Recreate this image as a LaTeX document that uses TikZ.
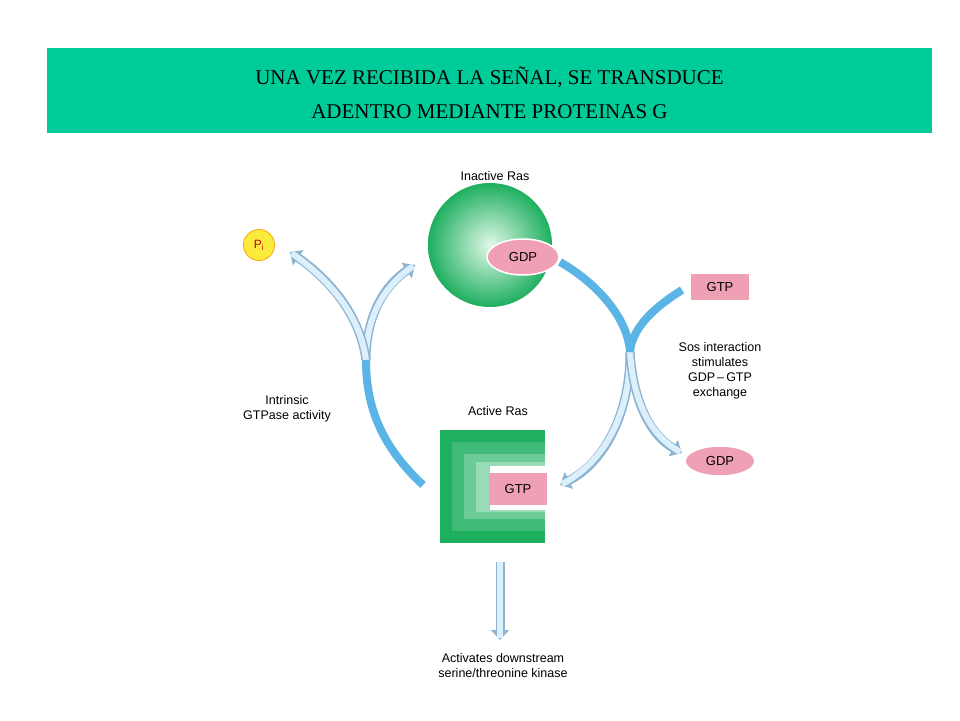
\documentclass[tikz,border=0pt]{standalone}
\usepackage{fontspec}
\setmainfont{Liberation Sans}
\newfontfamily\titlefont{Liberation Serif}
\usetikzlibrary{arrows.meta,shapes.geometric}
\definecolor{banner}{RGB}{0,204,153}
\definecolor{rasgreen}{RGB}{30,175,95}
\definecolor{raslight}{RGB}{225,248,232}
\definecolor{pinkx}{RGB}{240,160,180}
\definecolor{arcblue}{RGB}{90,180,230}
\definecolor{hollowfill}{RGB}{220,240,252}
\definecolor{hollowedge}{RGB}{140,180,210}
\definecolor{piyellow}{RGB}{250,235,60}
\tikzset{
  lbl/.style={font=\fontsize{12.5pt}{15pt}\selectfont, align=center, inner sep=0},
  solidarc/.style={line width=8pt, arcblue},
  hollowout/.style={line width=9pt, hollowedge, -{Triangle[width=18pt,length=10pt,fill=hollowfill]}},
  hollowin/.style={line width=6pt, hollowfill, shorten >=2pt},
  pinkoval/.style={ellipse, fill=pinkx, draw=white, line width=1.5pt, inner sep=1pt, font=\fontsize{13pt}{15pt}\selectfont},
  pinkbox/.style={rectangle, fill=pinkx, inner sep=0, font=\fontsize{13pt}{15pt}\selectfont}
}
\begin{document}
\begin{tikzpicture}[x=1pt,y=-1pt]
\useasboundingbox (0,0) rectangle (960,720);
\fill[white] (0,0) rectangle (960,720);
% banner
\node[fill=banner, minimum width=885pt, minimum height=85pt, inner sep=0, anchor=north west] (banner) at (47,48) {};
\node[align=center, font=\titlefont\fontsize{21pt}{34pt}\selectfont] (title) at (489.5,93) {UNA VEZ RECIBIDA LA SEÑAL, SE TRANSDUCE\\ADENTRO MEDIANTE PROTEINAS G};
% inactive ras
\shade[inner color=raslight, outer color=rasgreen] (490,245) circle (62);
\node[circle, minimum size=124pt, inner sep=0] (inact) at (490,245) {};
\node[pinkoval, minimum width=72pt, minimum height=36pt] (gdp1) at (523,257) {GDP};
\node[lbl] (inactlbl) at (495,176) {Inactive Ras};
% active ras
\fill[rasgreen] (440,430) rectangle (545,543);
\fill[rasgreen!85!white] (452,442) rectangle (545,531);
\fill[rasgreen!65!white] (464,454) rectangle (545,519);
\fill[rasgreen!45!white] (476,462) rectangle (545,512);
\fill[white] (490,466) rectangle (546,510);
\node[minimum width=105pt, minimum height=113pt, inner sep=0, anchor=north west] (act) at (440,430) {};
\node[pinkbox, minimum width=58pt, minimum height=32pt] (gtp1) at (518,489) {GTP};
\node[lbl] (actlbl) at (498,411) {Active Ras};
% others
\node[circle, fill=piyellow, draw=orange!70!yellow, line width=0.8pt, minimum size=31pt, inner sep=0, font=\fontsize{12pt}{14pt}\selectfont, text=red!80!black] (pi) at (259,245) {P$_{\mathrm i}$};
\node[pinkbox, minimum width=58pt, minimum height=26pt] (gtp2) at (720,287) {GTP};
\node[pinkoval, minimum width=70pt, minimum height=30pt] (gdp2) at (720,461) {GDP};
\node[lbl] (sos) at (720,371) {Sos interaction\\stimulates\\GDP\,--\,GTP\\exchange};
\node[lbl] (intr) at (287,409) {Intrinsic\\GTPase activity};
\node[lbl] (down) at (503,666) {Activates downstream\\serine/threonine kinase};
% coordinates
\coordinate (lb) at (423,485);
\coordinate (lm) at (366,360);
\coordinate (l1) at (415,265);
\coordinate (l2) at (290,252);
\coordinate (rt) at (560,262);
\coordinate (rg) at (682,290);
\coordinate (rm) at (630,352);
\coordinate (r1) at (560,485);
\coordinate (r2) at (682,453);
\coordinate (d1) at (500,562);
\coordinate (d2) at (500,640);
% left
\draw[hollowout] (lm) .. controls (366,315) and (385,285) .. (l1);
\draw[hollowin] (lm) .. controls (366,315) and (385,285) .. (l1);
\draw[hollowout] (lm) .. controls (360,315) and (330,280) .. (l2);
\draw[hollowin] (lm) .. controls (360,315) and (330,280) .. (l2);
\draw[solidarc] (lb) .. controls (380,445) and (366,405) .. (lm);
% right
\draw[hollowout] (rm) .. controls (630,420) and (600,465) .. (r1);
\draw[hollowin] (rm) .. controls (630,420) and (600,465) .. (r1);
\draw[hollowout] (rm) .. controls (634,410) and (655,438) .. (r2);
\draw[hollowin] (rm) .. controls (634,410) and (655,438) .. (r2);
\draw[solidarc] (rt) .. controls (600,285) and (628,320) .. (rm);
\draw[solidarc] (rg) .. controls (650,310) and (632,330) .. (rm);
% down
\draw[hollowout] (d1) -- (d2);
\draw[hollowin] (d1) -- (d2);
\end{tikzpicture}
\end{document}
